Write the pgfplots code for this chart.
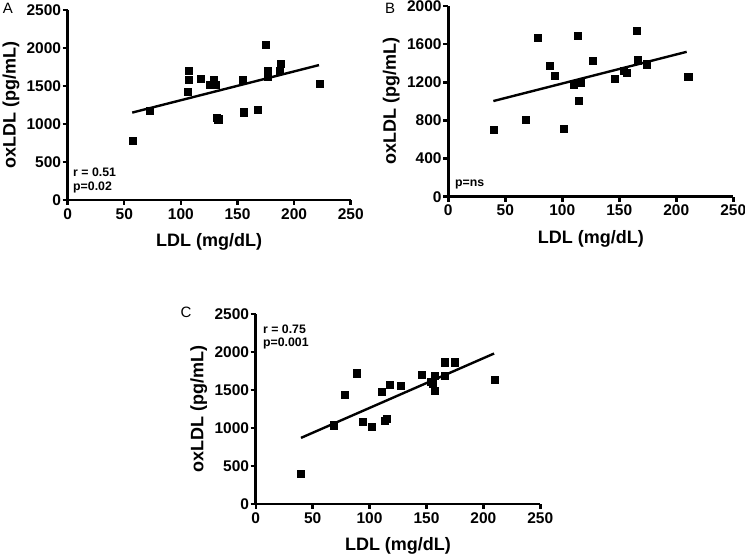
\documentclass[border=0pt]{standalone}
\usepackage{fontspec}
\setmainfont{Liberation Sans}
\usepackage{pgfplots}
\pgfplotsset{compat=1.18}
\tikzset{ann/.style={anchor=west, inner sep=0pt, font=\fontsize{12.3}{13}\selectfont\bfseries}}
\pgfplotsset{
  panel/.style={
    scale only axis, height=190pt,
    axis lines=left, axis line style={-, line width=2.6pt},
    every tick/.style={black, line width=2.4pt},
    tick align=outside, major tick length=5pt,
    xmin=0, xmax=250, ymin=0, xtick={0,50,...,250},
    scaled ticks=false,
    /pgf/number format/1000 sep={},
    /pgf/number format/assume math mode=true,
    ticklabel style={font=\fontsize{15.5}{16}\selectfont\bfseries},
    yticklabel style={inner sep=1.5pt},
    xticklabel style={inner sep=3pt},
    xlabel={LDL (mg/dL)}, ylabel={oxLDL (pg/mL)},
    label style={font=\fontsize{18}{20}\selectfont\bfseries},
    xlabel style={at={(axis description cs:0.5,0)}, anchor=base, yshift=-47pt},
    ylabel style={at={(axis description cs:-0.2,0.5)}, anchor=center},
    clip=false,
  },
  pts/.style={only marks, mark=square*, mark size=3.6pt, mark options={fill=black, draw=black}},
  fit/.style={no marks, black, line width=2.4pt},
}
\begin{document}
\begin{tikzpicture}
% Panel A
\begin{axis}[panel, width=283pt, at={(67.7pt,356pt)}, anchor=south west,
  ymax=2500, ytick={0,500,...,2500}]
\addplot[pts] coordinates {(57.1,776)(72.5,1175)(106.6,1701)(106.6,1579)(105.7,1425)(117.5,1601)(128.7,1588)(125.8,1522)(130.8,1522)(131.5,1085)(133,1062)(154.7,1579)(155.3,1154)(167.9,1184)(175,2039)(176.4,1701)(176.7,1623)(188.2,1789)(187,1697)(222.4,1526)};
\addplot[fit] coordinates {(57,1150)(222,1775)};
\node[ann] at (axis cs:4.7,368) {r = 0.51};
\node[ann] at (axis cs:4.7,171) {p=0.02};
\end{axis}
% Panel B
\begin{axis}[panel, width=285pt, height=190.5pt, at={(448.3pt,359.3pt)}, anchor=south west,
  ymax=2000, ytick={0,400,...,2000}]
\addplot[pts] coordinates {(39.5,707)(68.2,805)(78.4,1672)(88.6,1375)(93,1270)(101.5,718)(110.3,1172)(113.5,1689)(114.6,1004)(116.4,1196)(126.7,1427)(146.2,1242)(154.1,1322)(156.5,1301)(165.3,1739)(165.8,1434)(174,1392)(210.5,1256)};
\addplot[fit] coordinates {(39.5,1004)(209.1,1521)};
\node[ann] at (axis cs:5.9,133) {p=ns};
\end{axis}
% Panel C
\begin{axis}[panel, width=284.6pt, at={(255.7pt,52pt)}, anchor=south west,
  ymax=2500, ytick={0,500,...,2500}]
\addplot[pts] coordinates {(39.8,397)(68.8,1036)(78.5,1442)(88.7,1720)(93.7,1080)(101.9,1014)(110.7,1477)(113.6,1093)(115.1,1124)(117.4,1565)(127.4,1556)(146.1,1706)(153.7,1609)(155.5,1588)(157.5,1490)(157.5,1684)(166.3,1865)(165.7,1688)(174.5,1865)(209.6,1631)};
\addplot[fit] coordinates {(39.8,870)(209.4,1980)};
\node[ann] at (axis cs:6.4,2303) {r = 0.75};
\node[ann] at (axis cs:6.4,2118) {p=0.001};
\end{axis}
\node[font=\fontsize{15}{16}\selectfont] at (8pt,548pt) {A};
\node[font=\fontsize{15}{16}\selectfont] at (390pt,548pt) {B};
\node[font=\fontsize{15}{16}\selectfont] at (186pt,244pt) {C};
\pgfresetboundingbox
\path[use as bounding box] (0,0) rectangle (745pt,556pt);
\end{tikzpicture}
\end{document}
